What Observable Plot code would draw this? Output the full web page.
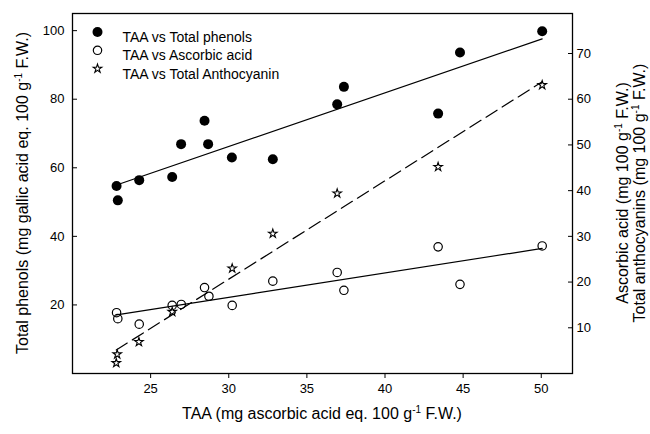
<!DOCTYPE html>
<html><head><meta charset="utf-8">
<script src="https://cdn.jsdelivr.net/npm/d3@7"></script>
<script src="https://cdn.jsdelivr.net/npm/@observablehq/plot@0.6"></script>
<style>
body{margin:0;background:#fff;}
#chart{position:relative;width:650px;height:434px;}
svg{font-family:"Liberation Sans",Arial,sans-serif;}
</style></head><body><div id="chart"></div>
<script>
// TAA vs Total phenols (left axis)
const taaPhenols = [22.82,22.9,24.27,26.38,26.95,28.45,28.68,30.2,32.82,36.94,37.37,43.4,44.8,50.06];
const totalPhenols = [54.7,50.5,56.4,57.3,66.9,73.7,66.9,63.0,62.5,78.5,83.6,75.8,93.6,99.8];
// TAA vs Ascorbic acid (right axis)
const taaAscorbic = [22.82,22.9,24.27,26.38,26.96,28.45,28.73,30.22,32.82,36.94,37.37,43.4,44.8,50.06];
const ascorbicAcid = [13.3,12.0,10.8,14.9,15.1,18.8,16.9,14.9,20.2,22.1,18.2,27.7,19.5,27.9];
// TAA vs Total anthocyanin (right axis)
const taaAntho = [22.86,22.8,24.25,26.38,30.22,32.82,36.94,43.4,50.06];
const anthocyanin = [4.2,2.3,6.9,13.5,23.0,30.6,39.4,45.2,63.1];

const xTicks = [25,30,35,40,45,50];
const leftTicks = [20,40,60,80,100];
const rightTicks = [10,20,30,40,50,60,70];
const legendLabels = ["TAA vs Total phenols","TAA vs Ascorbic acid","TAA vs Total Anthocyanin"];

const leftDomain = [0,105];
const rightDomain = [0,78.75];
const r2l = d3.scaleLinear().domain(rightDomain).range(leftDomain);

const ph = taaPhenols.map((x,i)=>({x, y: totalPhenols[i]}));
const aa = taaAscorbic.map((x,i)=>({x, y: r2l(ascorbicAcid[i])}));
const an = taaAntho.map((x,i)=>({x, y: r2l(anthocyanin[i])}));

const legendStyles = [
  {r:5, fill:"black", stroke:"none"},
  {r:4.2, fill:"none", stroke:"black", strokeWidth:1.2},
  {r:2.7, symbol:"star", fill:"white", stroke:"black", strokeWidth:1.1}
];
const legendMarks = legendLabels.flatMap((label,i)=>[
  Plot.dot([label], {frameAnchor:"top-left", dx:25, dy:18.5+i*18.3, ...legendStyles[i]}),
  Plot.text([label], {frameAnchor:"top-left", dx:50, dy:18.5+i*18.3, text:d=>d, textAnchor:"start", fontSize:14, fill:"black"})
]);

const plot = Plot.plot({
  width:650, height:434,
  marginLeft:72, marginRight:78, marginTop:13, marginBottom:61,
  style:{fontFamily:"Liberation Sans, Arial, sans-serif", fontSize:"13px", background:"white", color:"black"},
  x:{domain:[20,52]},
  y:{domain:leftDomain},
  marks:[
    Plot.linearRegressionY(ph, {x:"x", y:"y", ci:0, stroke:"black", strokeWidth:1.2}),
    Plot.linearRegressionY(aa, {x:"x", y:"y", ci:0, stroke:"black", strokeWidth:1.2}),
    Plot.linearRegressionY(an, {x:"x", y:"y", ci:0, stroke:"black", strokeWidth:1.2, strokeDasharray:"13,6"}),
    Plot.dot(ph, {x:"x", y:"y", ...legendStyles[0]}),
    Plot.dot(aa, {x:"x", y:"y", ...legendStyles[1]}),
    Plot.dot(an, {x:"x", y:"y", ...legendStyles[2]}),
    Plot.axisX(xTicks, {tickSize:5, tickPadding:5, label:null, fontSize:13}),
    Plot.axisY(leftTicks, {anchor:"left", tickSize:-5, tickPadding:13, label:null, fontSize:13}),
    Plot.axisY(rightTicks.map(r2l), {anchor:"right", tickSize:-5, tickPadding:9, label:null, fontSize:13,
      tickFormat:d=>String(Math.round(r2l.invert(d)))}),
    Plot.frame({stroke:"black", strokeWidth:1.3}),
    ...legendMarks
  ]
});
document.getElementById("chart").appendChild(plot);

// Axis titles with superscripts
const svg = d3.select(plot);
function title(x, y, rotate, parts){
  const t = svg.append("text")
    .attr("transform", `translate(${x},${y}) rotate(${rotate})`)
    .attr("text-anchor","middle")
    .attr("font-size",16)
    .attr("fill","black")
    .attr("font-family","Liberation Sans, Arial, sans-serif");
  t.append("tspan").text(parts[0]);
  t.append("tspan").attr("font-size",10).attr("dy",-6).text(parts[1]);
  t.append("tspan").attr("dy",6).text(parts[2]);
}
title(322, 419, 0, ["TAA (mg ascorbic acid eq. 100 g","-1"," F.W.)"]);
title(28, 193, -90, ["Total phenols (mg gallic acid eq. 100 g","-1"," F.W.)"]);
title(628, 193, -90, ["Ascorbic acid (mg 100 g","-1"," F.W.)"]);
title(645, 193, -90, ["Total anthocyanins (mg 100 g","-1"," F.W.)"]);
</script>
</body></html>
